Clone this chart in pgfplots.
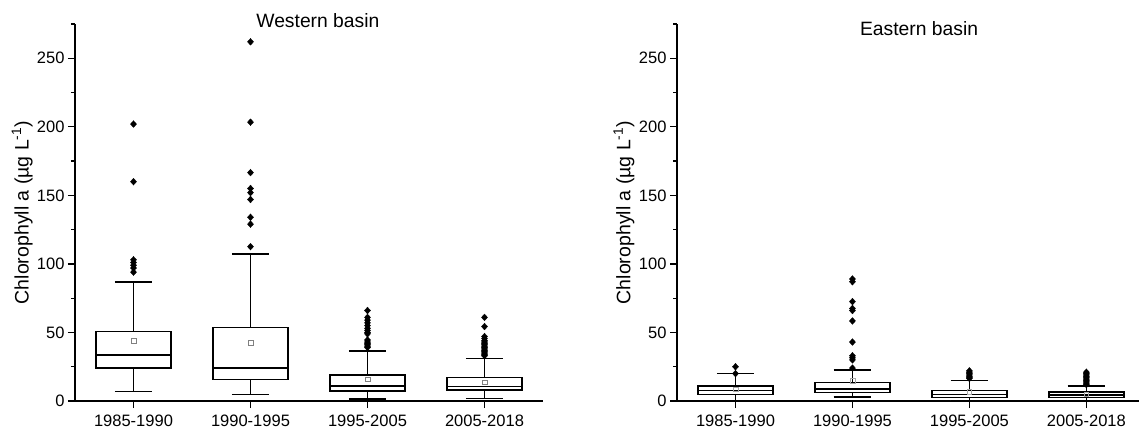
\documentclass[border=0pt]{standalone}
\usepackage{fontspec}
\setmainfont{Liberation Sans}
\usepackage{pgfplots}
\pgfplotsset{compat=1.18}
\usepgfplotslibrary{statistics}
\begin{document}
\begin{tikzpicture}
\pgfplotsset{
  basin/.style={
    scale only axis, height=377pt, ymin=0, ymax=275, xmin=-0.5,
    axis x line*=bottom, axis y line*=left,
    axis line style={-, line width=1.4pt},
    ytick={0,50,...,250}, minor ytick={25,75,...,275},
    tick align=outside, major tick length=7pt, minor tick length=4pt,
    tick style={line width=1.3pt, black},
    xtick={0,1,2,3}, xticklabels={1985-1990,1990-1995,1995-2005,2005-2018},
    ticklabel style={font=\fontsize{16.5}{19}\selectfont},
    xticklabel style={yshift=-3pt},
    /pgf/number format/assume math mode=true,
    ylabel={Chlorophyll a (µg L\textsuperscript{-1})},
    label style={font=\fontsize{19.5}{22}\selectfont},
    title style={anchor=center, font=\fontsize{19.3}{22}\selectfont},
    clip=false,
  },
  bx/.style={black, line width=1.5pt, fill=white, mark=none, boxplot/draw direction=y},
  ol/.style={only marks, mark=diamond*, mark size=3.4pt, black, mark options={fill=black, line width=0.3pt, xscale=1.2}},
  mn/.style={only marks, mark=square, mark size=2.4pt, color=gray, line width=0.7pt},
}
% ---------------- Western basin ----------------
\begin{axis}[basin, width=468pt, xmax=3.5,
  ylabel style={at={(axis description cs:-0.113,0.5)}, anchor=center},
  title={Western basin}, title style={at={(axis description cs:0.519,0.994)}}]
\addplot[bx, boxplot prepared={draw position=0, lower whisker=6.8, lower quartile=23.9, median=33.6, upper quartile=50.6, upper whisker=86.9, box extend=0.64, whisker extend=0.32}] coordinates {};
\addplot[bx, boxplot prepared={draw position=1, lower whisker=4.6, lower quartile=15.8, median=24.1, upper quartile=53.5, upper whisker=107.3, box extend=0.64, whisker extend=0.32}] coordinates {};
\addplot[bx, boxplot prepared={draw position=2, lower whisker=1.5, lower quartile=7.3, median=11, upper quartile=19, upper whisker=36.5, box extend=0.64, whisker extend=0.32}] coordinates {};
\addplot[bx, boxplot prepared={draw position=3, lower whisker=1.7, lower quartile=8, median=10.4, upper quartile=17.3, upper whisker=30.9, box extend=0.64, whisker extend=0.32}] coordinates {};
\addplot[ol] coordinates {
 (0,202) (0,160) (0,103) (0,101) (0,99) (0,97) (0,94)
 (1,262) (1,203.4) (1,166.6) (1,155) (1,152) (1,147) (1,134) (1,129) (1,112.6)
 (2,66) (2,61) (2,59) (2,57) (2,55) (2,53) (2,51.5) (2,50) (2,49) (2,44.5) (2,43) (2,42) (2,41) (2,40) (2,39)
 (3,61) (3,54.3) (3,47) (3,45.5) (3,44) (3,43) (3,42) (3,41) (3,40) (3,39) (3,38) (3,37) (3,36) (3,35) (3,34) (3,33)
};
\addplot[mn] coordinates {(0,43.8) (1,42.3) (2,15.8) (3,13.6)};
\end{axis}
% ---------------- Eastern basin ----------------
\begin{axis}[basin, at={(602pt,0pt)}, width=462pt, xmax=3.45,
  ylabel style={at={(axis description cs:-0.115,0.5)}, anchor=center},
  title={Eastern basin}, title style={at={(axis description cs:0.524,0.973)}}]
\addplot[bx, boxplot prepared={draw position=0, lower whisker=0.2, lower quartile=4.9, median=7.8, upper quartile=10.9, upper whisker=19.9, box extend=0.64, whisker extend=0.32}] coordinates {};
\addplot[bx, boxplot prepared={draw position=1, lower whisker=2.9, lower quartile=6.3, median=8.8, upper quartile=13.6, upper whisker=22.6, box extend=0.64, whisker extend=0.32}] coordinates {};
\addplot[bx, boxplot prepared={draw position=2, lower whisker=0.2, lower quartile=2.7, median=4.9, upper quartile=7.5, upper whisker=15.1, box extend=0.64, whisker extend=0.32}] coordinates {};
\addplot[bx, boxplot prepared={draw position=3, lower whisker=0.5, lower quartile=2.4, median=4.4, upper quartile=6.6, upper whisker=10.9, box extend=0.64, whisker extend=0.32}] coordinates {};
\addplot[ol] coordinates {
 (0,25) (0,20)
 (1,89) (1,87) (1,72.5) (1,67.5) (1,66) (1,58.4) (1,43) (1,33) (1,31.5) (1,30) (1,24)
 (2,22) (2,21) (2,20) (2,19) (2,18) (2,17) (2,16.5)
 (3,21) (3,20) (3,19) (3,18) (3,17) (3,16) (3,15) (3,14) (3,13) (3,12)
};
\addplot[mn, color=gray!70] coordinates {(0,8.5) (1,14.6) (2,6.4) (3,4.9)};
\end{axis}
\pgfresetboundingbox
\path (-75pt,-31pt) rectangle (1064pt,401pt);
\end{tikzpicture}
\end{document}
